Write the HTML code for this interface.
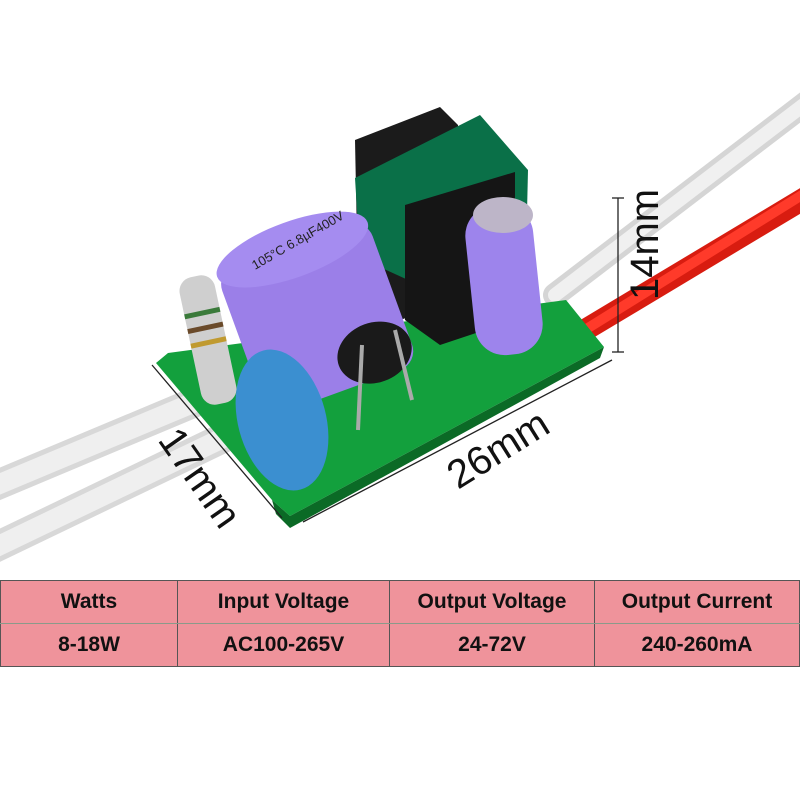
<!DOCTYPE html>
<html><head><style>
body{margin:0;width:800px;height:800px;background:#fff;overflow:hidden;font-family:"Liberation Sans",sans-serif}
table{position:absolute;left:0;top:580px;width:800px;height:87px;border-collapse:collapse;background:#ef939b}
td{border:1px solid #555;text-align:center;font-weight:bold;font-size:21px;color:#111;padding:0}
tr:first-child td{border-bottom:1px solid #8a9a8a}
</style></head><body>
<svg width="800" height="580" style="position:absolute;left:0;top:0">
<g stroke-linecap="round">
<line x1="-10" y1="488" x2="200" y2="400" stroke="#d8d8d8" stroke-width="30"/>
<line x1="-10" y1="550" x2="250" y2="425" stroke="#d8d8d8" stroke-width="30"/>
<line x1="-10" y1="488" x2="200" y2="400" stroke="#efefef" stroke-width="20"/>
<line x1="-10" y1="550" x2="250" y2="425" stroke="#efefef" stroke-width="20"/>
<line x1="555" y1="295" x2="810" y2="100" stroke="#d5d5d5" stroke-width="24"/>
<line x1="555" y1="295" x2="810" y2="100" stroke="#f0f0f0" stroke-width="14"/>
<line x1="580" y1="333" x2="810" y2="195" stroke="#d81c10" stroke-width="22"/>
<line x1="580" y1="333" x2="810" y2="190" stroke="#ff3a2a" stroke-width="10"/>
</g>
<polygon points="156,363 168,353 566,300 604,347 290,516 272,500" fill="#13a03d"/>
<polygon points="272,500 290,516 604,347 600,358 290,528 276,514" fill="#0b6a26"/>
<polygon points="355,140 440,107 458,125 460,300 400,320 358,290" fill="#1b1b1b"/>
<polygon points="355,178 480,115 528,170 526,255 430,290 360,258" fill="#0a7048"/>
<polygon points="405,205 515,172 515,320 440,345 405,320" fill="#151515"/>
<g transform="rotate(-20 318 320)">
<rect x="238" y="240" width="160" height="155" rx="20" fill="#9b7fe8"/>
<ellipse cx="318" cy="245" rx="80" ry="28" fill="#a58cf0"/>
<ellipse cx="360" cy="370" rx="38" ry="30" fill="#1a1a1a"/>
</g>
<text x="255" y="270" font-size="13" fill="#222" transform="rotate(-30 255 270)">105°C 6.8µF400V</text>
<rect x="470" y="205" width="68" height="150" rx="30" fill="#9d84ec" transform="rotate(-6 504 280)"/>
<ellipse cx="503" cy="215" rx="30" ry="18" fill="#bdb5c8"/>
<g transform="rotate(-12 208 340)">
<rect x="190" y="275" width="36" height="130" rx="14" fill="#cfcfcf"/>
<rect x="190" y="310" width="36" height="5" fill="#3a7a3a"/>
<rect x="190" y="325" width="36" height="5" fill="#6a4a2a"/>
<rect x="190" y="340" width="36" height="5" fill="#c09a30"/>
</g>
<ellipse cx="282" cy="420" rx="44" ry="72" fill="#3b8fd0" transform="rotate(-15 282 420)"/>
<line x1="358" y1="430" x2="362" y2="345" stroke="#aaa" stroke-width="4"/>
<line x1="412" y1="400" x2="395" y2="330" stroke="#aaa" stroke-width="4"/>
<g stroke="#222" stroke-width="1.3">
<line x1="618" y1="198" x2="618" y2="352"/>
<line x1="612" y1="198" x2="624" y2="198"/><line x1="612" y1="352" x2="624" y2="352"/>
<line x1="152" y1="365" x2="282" y2="518"/>
<line x1="303" y1="522" x2="612" y2="360"/>
</g>
<text x="0" y="0" font-size="40" fill="#111" transform="translate(658,300) rotate(-90)">14mm</text>
<text x="0" y="0" font-size="40" fill="#111" transform="translate(157,440) rotate(55)">17mm</text>
<text x="0" y="0" font-size="40" fill="#111" transform="translate(458,490) rotate(-32)">26mm</text>
</svg>
<table>
<tr><td style="width:176px">Watts</td><td style="width:211px">Input Voltage</td><td style="width:204px">Output Voltage</td><td>Output Current</td></tr>
<tr><td>8-18W</td><td>AC100-265V</td><td>24-72V</td><td>240-260mA</td></tr>
</table>
</body></html>
